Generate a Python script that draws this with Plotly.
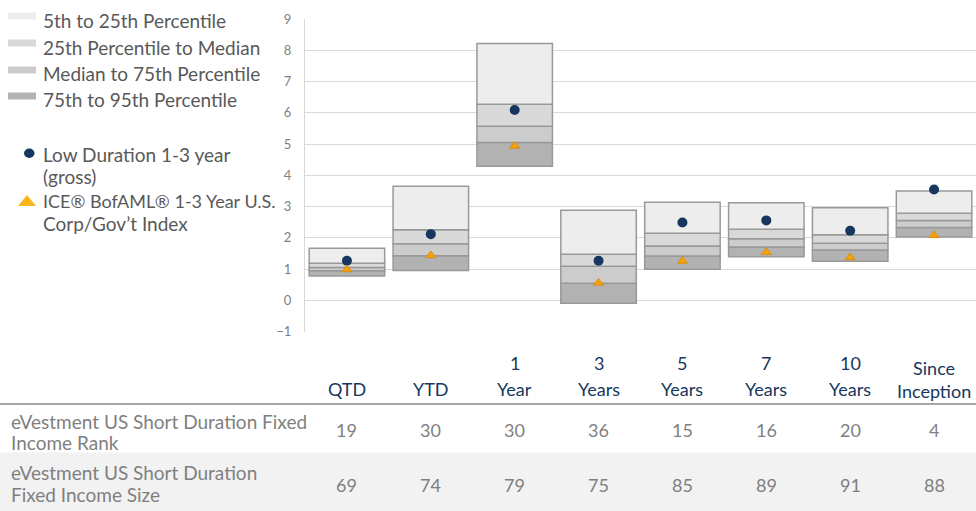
import plotly.graph_objects as go

# ---------------- data ----------------
categories = ["QTD", "YTD", "1 Year", "3 Years", "5 Years", "7 Years", "10 Years", "Since Inception"]
label_top = ["", "", "1", "3", "5", "7", "10", "Since"]
label_bottom = ["QTD", "YTD", "Year", "Years", "Years", "Years", "Years", "Inception"]

p5 = [1.67, 3.65, 8.22, 2.88, 3.14, 3.12, 2.96, 3.50]
p25 = [1.19, 2.26, 6.27, 1.48, 2.15, 2.28, 2.10, 2.79]
median = [1.05, 1.81, 5.57, 1.09, 1.74, 1.97, 1.83, 2.56]
p75 = [0.95, 1.43, 5.05, 0.55, 1.42, 1.71, 1.61, 2.33]
p95 = [0.78, 0.96, 4.29, -0.09, 1.00, 1.40, 1.25, 2.03]

fund = [1.27, 2.12, 6.09, 1.27, 2.49, 2.56, 2.23, 3.55]
index = [0.99, 1.44, 4.94, 0.56, 1.26, 1.54, 1.37, 2.08]

rank = [19, 30, 30, 36, 15, 16, 20, 4]
size = [69, 74, 79, 75, 85, 89, 91, 88]

row_labels = [["eVestment US Short Duration Fixed", "Income Rank"],
              ["eVestment US Short Duration", "Fixed Income Size"]]
legend_labels = ["5th to 25th Percentile", "25th Percentile to Median",
                 "Median to 75th Percentile", "75th to 95th Percentile"]
fund_name = ["Low Duration 1-3 year", "(gross)"]
index_name = ["ICE® BofAML® 1-3 Year U.S.", "Corp/Gov’t Index"]

# ---------------- styling ----------------
W, H = 976, 511
FONT = "Lato"
C_5_25 = "#ededed"
C_25_50 = "#d9d9d9"
C_50_75 = "#cccccc"
C_75_95 = "#b2b2b2"
EDGE = "#999999"
NAVY = "#17375e"
ORANGE = "#f2a20c"
LEG_TXT = "#595959"
TBL_TXT = "#7f7f7f"


def py(p):
    return (H - p) / H


def px(p):
    return p / W


fig = go.Figure()


def seg(lo, hi, color, name):
    fig.add_trace(go.Bar(
        x=categories, base=lo, y=[h - l for h, l in zip(hi, lo)],
        marker=dict(color=color, line=dict(color=EDGE, width=1.5)),
        width=0.9, name=name, showlegend=False, hoverinfo="skip"))


seg(p95, p75, C_75_95, legend_labels[3])
seg(p75, median, C_50_75, legend_labels[2])
seg(median, p25, C_25_50, legend_labels[1])
seg(p25, p5, C_5_25, legend_labels[0])

fig.add_trace(go.Scatter(x=categories, y=fund, mode="markers", showlegend=False,
                         marker=dict(symbol="circle", size=10, color=NAVY)))
fig.add_trace(go.Scatter(x=categories, y=index, mode="markers", showlegend=False,
                         marker=dict(symbol="triangle-up", size=9, color=ORANGE,
                                     line=dict(color="#d98c00", width=0.8))))

shapes = []
annotations = []


def text(t, x, y, size, color, xanchor="left", xref="paper"):
    annotations.append(dict(text=t, xref=xref, yref="paper",
                            x=px(x) if xref == "paper" else x, y=py(y),
                            xanchor=xanchor, yanchor="middle", showarrow=False,
                            font=dict(family=FONT, size=size, color=color)))


# legend swatches
for lab, col, yc, ty in zip(legend_labels, [C_5_25, C_25_50, C_50_75, C_75_95],
                            [16, 43, 70, 96], [20, 47, 73, 99.5]):
    shapes.append(dict(type="rect", xref="paper", yref="paper",
                       x0=px(8), x1=px(36), y0=py(yc + 3.5), y1=py(yc - 3.5),
                       fillcolor=col, line=dict(width=0)))
    text(lab, 41, ty, 19, LEG_TXT)

# legend markers
shapes.append(dict(type="circle", xref="paper", yref="paper",
                   x0=px(24), x1=px(34.5), y0=py(158), y1=py(148.5),
                   fillcolor=NAVY, line=dict(width=0)))
shapes.append(dict(type="path", xref="paper", yref="paper",
                   path=f"M {px(18)},{py(206)} L {px(36)},{py(206)} L {px(27)},{py(195)} Z",
                   fillcolor="#f9b81a", line=dict(width=0)))
text(fund_name[0], 41, 154, 19, LEG_TXT)
text(fund_name[1], 41, 176, 19, LEG_TXT)
text(index_name[0], 41, 201, 18, LEG_TXT)
text(index_name[1], 41, 223, 19, LEG_TXT)

# category header labels
for i, (t, b) in enumerate(zip(label_top, label_bottom)):
    if t == "Since":
        annotations.append(dict(text=t + "<br>" + b, xref="x", yref="paper",
                                x=categories[i], y=py(379.5), xanchor="center",
                                yanchor="middle", showarrow=False,
                                font=dict(family=FONT, size=18, color=NAVY)))
        continue
    text(b, categories[i], 389, 18, NAVY, xanchor="center", xref="x")
    if t:
        text(t, categories[i], 363, 18, NAVY, xanchor="center", xref="x")

# table
shapes.append(dict(type="line", xref="paper", yref="paper", x0=0, x1=1, y0=py(404), y1=py(404),
                   line=dict(color="#a6a6a6", width=2)))
shapes.append(dict(type="rect", xref="paper", yref="paper", x0=0, x1=1, y0=py(511), y1=py(452.5),
                   fillcolor="#f2f2f2", line=dict(width=0), layer="below"))
for row, vals, yc, ly in [(0, rank, 430, (421, 442)), (1, size, 485, (472, 494))]:
    text(row_labels[row][0], 9, ly[0], 19, TBL_TXT)
    text(row_labels[row][1], 9, ly[1], 19, TBL_TXT)
    for cat, v in zip(categories, vals):
        text(str(v), cat, yc, 18, TBL_TXT, xanchor="center", xref="x")

fig.update_layout(
    width=W, height=H, margin=dict(l=0, r=0, t=0, b=0, autoexpand=False),
    paper_bgcolor="white", plot_bgcolor="white",
    barmode="overlay", showlegend=False,
    shapes=shapes, annotations=annotations,
    xaxis=dict(domain=[px(305), 1.0], range=[-0.5, 7.5], showticklabels=False,
               showgrid=False, zeroline=False, showline=False, fixedrange=True,
               automargin=False),
    yaxis=dict(domain=[py(331.7), py(19)], range=[-1, 9], dtick=1,
               showgrid=True, gridcolor="#d9d9d9", gridwidth=1.3, zeroline=False,
               showline=True, linecolor="#d9d9d9", linewidth=1.3,
               ticklabelstandoff=10, fixedrange=True, automargin=False,
               tickfont=dict(family=FONT, size=13, color="#7f7f7f")),
)

reset_js = (
    "var s=document.createElement('style');"
    "s.textContent='html,body{margin:0!important;padding:0!important;overflow:hidden;}';"
    "document.head.appendChild(s);"
)

fig.write_html("out.html", config={"displayModeBar": False}, post_script=reset_js)
